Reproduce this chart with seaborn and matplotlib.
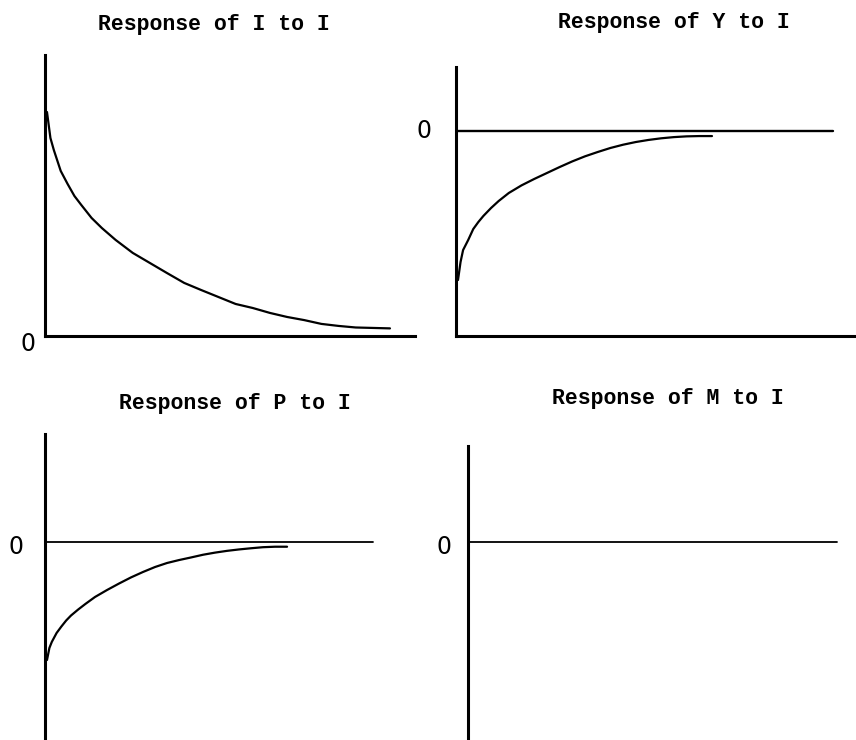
import matplotlib
matplotlib.use("Agg")
import matplotlib.pyplot as plt
import seaborn as sns
import pandas as pd

# ---------------- data ----------------
horizon = [0, 1, 2, 4, 6, 8, 10, 13, 16, 20, 25, 30, 35, 40, 45, 50,
           55, 60, 65, 70, 75, 80, 85, 90, 95, 100]
resp_I = [1.000, 0.884, 0.830, 0.737, 0.679, 0.625, 0.585, 0.527, 0.482,
          0.429, 0.371, 0.326, 0.281, 0.237, 0.205, 0.174, 0.143, 0.125,
          0.103, 0.085, 0.071, 0.054, 0.045, 0.038, 0.036, 0.034]
resp_Y = [-1.000, -0.879, -0.799, -0.732, -0.658, -0.611, -0.570, -0.517,
          -0.470, -0.416, -0.365, -0.322, -0.282, -0.242, -0.204, -0.170,
          -0.141, -0.114, -0.092, -0.074, -0.060, -0.049, -0.041, -0.036,
          -0.034, -0.034]
resp_P = [-1.000, -0.898, -0.847, -0.771, -0.716, -0.665, -0.623, -0.572,
          -0.525, -0.466, -0.407, -0.352, -0.300, -0.254, -0.212, -0.178,
          -0.153, -0.131, -0.108, -0.090, -0.075, -0.063, -0.053, -0.044,
          -0.040, -0.040]
resp_M = [0.0] * len(horizon)
titles = ["Response of I to I", "Response of Y to I",
          "Response of P to I", "Response of M to I"]
zero_label = "0"

# ---------------- style ----------------
sns.set_style("white")
plt.rcParams["font.family"] = ["Liberation Mono", "DejaVu Sans Mono"]

W, H = 856, 740
fig = plt.figure(figsize=(W / 100, H / 100), dpi=100)


def px_axes(left, top, right, bottom):
    return fig.add_axes([left / W, 1 - bottom / H,
                         (right - left) / W, (bottom - top) / H])


panels = [
    dict(box=(45, 55, 415, 336), xlim=(-0.58, 107.3), ylim=(0, 1.2545),
         data=resp_I, zero=None, lab=(-9, -8), tpos=(0.457, 1.110), bottom=True),
    dict(box=(456, 67, 856, 336), xlim=(-0.79, 156.7), ylim=(-1.3758, 0.4295),
         data=resp_Y, zero=(0.9425, 1.7), lab=(-24, 0), tpos=(0.545, 1.167), bottom=True),
    dict(box=(45, 434, 415, 740), xlim=(-0.83, 153.3), ylim=(-1.678, 0.9153),
         data=resp_P, zero=(0.886, 1.3), lab=(-21, -5), tpos=(0.514, 1.101), bottom=False),
    dict(box=(468, 446, 856, 740), xlim=(-0.83, 153.3), ylim=(-1.678, 0.8136),
         data=resp_M, zero=(0.951, 1.3), lab=(-17, -5), tpos=(0.515, 1.163), bottom=False),
]

for p, title in zip(panels, titles):
    ax = px_axes(*p["box"])
    df = pd.DataFrame({"horizon": horizon, "response": p["data"]})
    if p["data"] is not resp_M:
        sns.lineplot(data=df, x="horizon", y="response", ax=ax,
                     color="black", linewidth=1.6)
    if p["zero"] is not None:
        ax.axhline(0, xmin=0, xmax=p["zero"][0], color="black",
                   linewidth=p["zero"][1])
    ax.set_xlim(*p["xlim"])
    ax.set_ylim(*p["ylim"])
    ax.set_xticks([])
    ax.set_yticks([])
    ax.set_xlabel("")
    ax.set_ylabel("")
    for s in ["top", "right"]:
        ax.spines[s].set_visible(False)
    ax.spines["left"].set_linewidth(2.2)
    ax.spines["left"].set_color("black")
    ax.spines["bottom"].set_visible(p["bottom"])
    ax.spines["bottom"].set_linewidth(2.2)
    ax.spines["bottom"].set_color("black")
    ax.patch.set_alpha(0)
    ax.annotate(zero_label, xy=(0, 0), xycoords=("axes fraction", "data"),
                xytext=p["lab"], textcoords="offset pixels",
                ha="right", va="center", fontsize=17,
                family=["DejaVu Sans", "Liberation Sans"], color="black")
    ax.set_title(title, x=p["tpos"][0], y=p["tpos"][1], va="center", pad=0,
                 fontsize=15.5, fontweight="bold", color="black")

fig.savefig("out.png", dpi=100, facecolor="white")
